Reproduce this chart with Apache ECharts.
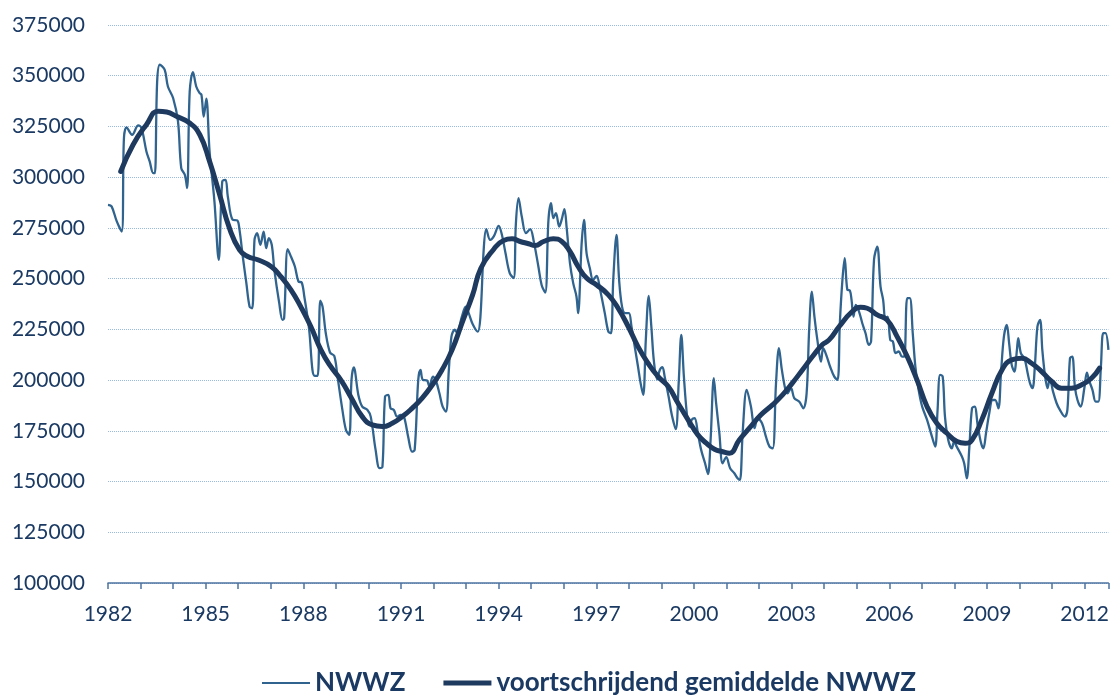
<!DOCTYPE html>
<html>
<head>
<meta charset="utf-8">
<title>NWWZ</title>
<script src="https://cdn.jsdelivr.net/npm/echarts@6/dist/echarts.min.js"></script>
<style>
  html, body { margin: 0; padding: 0; background: #fff; }
  #chart { width: 1112px; height: 699px; }
</style>
</head>
<body>
<div id="chart"></div>
<script>
var nwwzTijd = [
  1982.00, 1982.11, 1982.27, 1982.42, 1982.49, 1982.57, 1982.74, 1982.93, 1983.03, 1983.18,
  1983.28, 1983.39, 1983.44, 1983.51, 1983.59, 1983.74, 1983.84, 1984.00, 1984.15, 1984.25,
  1984.36, 1984.43, 1984.51, 1984.61, 1984.71, 1984.81, 1984.87, 1984.94, 1985.02, 1985.12,
  1985.27, 1985.40, 1985.51, 1985.61, 1985.68, 1985.83, 1985.97, 1986.04, 1986.14, 1986.25,
  1986.35, 1986.43, 1986.50, 1986.58, 1986.68, 1986.78, 1986.86, 1986.94, 1987.03, 1987.11,
  1987.26, 1987.36, 1987.41, 1987.52, 1987.62, 1987.74, 1987.85, 1987.95, 1988.03, 1988.18,
  1988.28, 1988.35, 1988.44, 1988.52, 1988.59, 1988.69, 1988.82, 1988.95, 1989.05, 1989.20,
  1989.31, 1989.41, 1989.48, 1989.55, 1989.69, 1989.81, 1989.97, 1990.07, 1990.22, 1990.34,
  1990.43, 1990.51, 1990.61, 1990.68, 1990.78, 1990.88, 1990.99, 1991.09, 1991.22, 1991.34,
  1991.42, 1991.53, 1991.60, 1991.67, 1991.80, 1991.87, 1991.98, 1992.08, 1992.18, 1992.28,
  1992.38, 1992.47, 1992.55, 1992.65, 1992.72, 1992.87, 1992.99, 1993.08, 1993.20, 1993.36,
  1993.44, 1993.54, 1993.62, 1993.74, 1993.85, 1994.00, 1994.10, 1994.21, 1994.34, 1994.46,
  1994.53, 1994.61, 1994.71, 1994.84, 1994.97, 1995.07, 1995.22, 1995.32, 1995.43, 1995.53,
  1995.61, 1995.68, 1995.76, 1995.86, 1995.94, 1996.02, 1996.09, 1996.19, 1996.29, 1996.39,
  1996.44, 1996.55, 1996.62, 1996.70, 1996.80, 1996.90, 1997.01, 1997.11, 1997.26, 1997.37,
  1997.45, 1997.52, 1997.62, 1997.70, 1997.79, 1997.89, 1998.00, 1998.08, 1998.18, 1998.28,
  1998.36, 1998.44, 1998.52, 1998.61, 1998.69, 1998.77, 1998.87, 1998.95, 1999.03, 1999.10,
  1999.22, 1999.32, 1999.44, 1999.53, 1999.61, 1999.69, 1999.79, 1999.86, 1999.94, 2000.02,
  2000.12, 2000.22, 2000.34, 2000.43, 2000.51, 2000.61, 2000.68, 2000.78, 2000.88, 2000.99,
  2001.11, 2001.24, 2001.34, 2001.41, 2001.50, 2001.62, 2001.75, 2001.86, 2001.96, 2002.09,
  2002.21, 2002.32, 2002.42, 2002.52, 2002.61, 2002.70, 2002.81, 2002.87, 2002.98, 2003.08,
  2003.23, 2003.36, 2003.46, 2003.54, 2003.62, 2003.70, 2003.79, 2003.90, 2003.97, 2004.08,
  2004.18, 2004.31, 2004.41, 2004.48, 2004.56, 2004.63, 2004.71, 2004.79, 2004.84, 2004.90,
  2004.97, 2005.07, 2005.17, 2005.27, 2005.37, 2005.44, 2005.53, 2005.63, 2005.73, 2005.81,
  2005.88, 2005.95, 2006.03, 2006.11, 2006.19, 2006.29, 2006.39, 2006.46, 2006.55, 2006.63,
  2006.72, 2006.80, 2006.90, 2007.01, 2007.16, 2007.31, 2007.41, 2007.48, 2007.56, 2007.64,
  2007.71, 2007.81, 2007.92, 2007.99, 2008.07, 2008.23, 2008.30, 2008.38, 2008.46, 2008.54,
  2008.62, 2008.72, 2008.82, 2008.89, 2008.97, 2009.07, 2009.17, 2009.25, 2009.35, 2009.43,
  2009.52, 2009.61, 2009.68, 2009.76, 2009.84, 2009.92, 2009.96, 2010.04, 2010.15, 2010.25,
  2010.32, 2010.40, 2010.47, 2010.55, 2010.63, 2010.70, 2010.78, 2010.86, 2010.93, 2011.03,
  2011.14, 2011.24, 2011.39, 2011.47, 2011.55, 2011.62, 2011.70, 2011.78, 2011.88, 2011.99,
  2012.07, 2012.13, 2012.24, 2012.34, 2012.42, 2012.50, 2012.57, 2012.64, 2012.73
];
var nwwzAantal = [
  286400, 285600, 278200, 273200, 319300, 324500, 320900, 325500, 324200, 312700,
  307800, 302000, 302000, 347200, 355400, 353000, 344700, 339000, 327500, 304500,
  301200, 294600, 342300, 351800, 344700, 341500, 340600, 329900, 338700, 312700,
  288000, 259300, 297900, 298700, 290500, 279000, 278700, 274000, 260900, 247800,
  236200, 235400, 269100, 272400, 266700, 273200, 265000, 270000, 266700, 254300,
  237900, 229700, 230500, 264500, 260900, 256000, 248600, 248100, 241200, 224800,
  205000, 202100, 202100, 239200, 236300, 223100, 213600, 211900, 201700, 185300,
  175400, 173000, 200100, 206300, 192700, 186900, 185300, 182000, 165600, 156600,
  157300, 191900, 192700, 186100, 185300, 182000, 182800, 182000, 172100, 164700,
  165600, 200100, 205000, 200100, 199800, 196800, 201700, 199300, 193500, 186900,
  184500, 205000, 221400, 224800, 223400, 231300, 236200, 233000, 227700, 223900,
  231300, 264200, 274400, 269100, 270800, 276000, 271600, 262600, 252700, 250300,
  277400, 289700, 280600, 272400, 274400, 269100, 256000, 246900, 243100, 279000,
  287200, 279800, 282300, 275700, 279300, 284300, 274900, 257700, 247800, 241200,
  233000, 267500, 279000, 262600, 255200, 249400, 251400, 245000, 233000, 223900,
  223100, 249400, 271600, 249400, 236200, 233000, 233000, 226400, 216500, 206700,
  198500, 192700, 219800, 241500, 226400, 209100, 200400, 205000, 206400, 201700,
  191900, 182800, 175800, 198500, 222300, 201700, 182000, 177100, 180700, 181200,
  173800, 165600, 159000, 153700, 170500, 200900, 188600, 173800, 159000, 162000,
  156600, 154100, 151600, 150800, 175400, 195200, 186900, 176300, 181200, 178700,
  172100, 167200, 166400, 198500, 215700, 205000, 195200, 193500, 196000, 191100,
  189400, 186100, 193500, 225600, 243600, 231300, 219800, 209100, 215700, 211600,
  206700, 201700, 200100, 228000, 249400, 260100, 244500, 244100, 239500, 231300,
  237100, 233800, 228000, 223100, 217400, 219000, 259300, 265800, 246100, 239500,
  229700, 231300, 219800, 219000, 213300, 214100, 211600, 211600, 240400, 240400,
  223100, 206700, 195200, 186900, 180400, 172100, 167200, 184500, 202600, 201700,
  182000, 170500, 166400, 169700, 167200, 162300, 159000, 151600, 167200, 186100,
  186900, 177100, 168900, 166400, 173800, 183700, 190200, 190200, 186100, 203400,
  221400, 227200, 218200, 207500, 204200, 214900, 220700, 213300, 210800, 203400,
  198500, 196000, 206700, 226400, 229700, 214900, 202600, 196000, 200900, 194300,
  188600, 185300, 182000, 185300, 210800, 211600, 196800, 190200, 186900, 196000,
  203700, 200100, 195200, 189400, 189400, 206700, 223100, 223100, 214900
];

var gemTijd = [
  1982.39, 1982.77, 1983.18, 1983.54, 1983.80, 1984.10, 1984.51, 1984.82, 1985.12, 1985.43,
  1985.73, 1986.04, 1986.29, 1986.60, 1987.01, 1987.31, 1987.62, 1987.92, 1988.23, 1988.54,
  1988.84, 1989.15, 1989.48, 1989.81, 1990.12, 1990.43, 1990.73, 1991.04, 1991.34, 1991.65,
  1991.96, 1992.26, 1992.57, 1992.87, 1993.20, 1993.45, 1993.85, 1994.15, 1994.41, 1994.66,
  1994.92, 1995.12, 1995.38, 1995.68, 1995.94, 1996.19, 1996.44, 1996.70, 1997.01, 1997.37,
  1997.67, 1997.98, 1998.28, 1998.59, 1998.90, 1999.21, 1999.51, 1999.82, 2000.12, 2000.38,
  2000.63, 2000.88, 2001.09, 2001.39, 2001.70, 2002.05, 2002.41, 2002.72, 2003.02, 2003.33,
  2003.64, 2003.94, 2004.15, 2004.46, 2004.86, 2005.12, 2005.32, 2005.63, 2005.93, 2006.24,
  2006.55, 2006.85, 2007.16, 2007.46, 2007.77, 2008.08, 2008.33, 2008.54, 2008.84, 2009.15,
  2009.46, 2009.76, 2010.07, 2010.37, 2010.68, 2010.99, 2011.29, 2011.59, 2011.90, 2012.21,
  2012.46
];
var gemAantal = [
  302800, 316000, 325900, 332500, 332100, 330000, 326700, 320900, 307800, 291300,
  274900, 264200, 260900, 259300, 256000, 251000, 244500, 236200, 226400, 214900,
  206700, 200100, 191100, 182000, 177900, 177100, 178700, 182000, 186100, 191100,
  197600, 205000, 214900, 228000, 242000, 255000, 264500, 268800, 269600, 268300,
  267200, 266300, 268300, 269600, 268300, 263400, 256000, 250300, 246900, 242000,
  235400, 226400, 216500, 208300, 201700, 196800, 188600, 180400, 173000, 168900,
  165900, 164700, 164000, 170500, 176300, 182800, 187800, 192700, 198500, 205000,
  211600, 217400, 219800, 226400, 233800, 235900, 235400, 232100, 229700, 221400,
  211600, 200100, 186900, 178700, 173800, 169700, 168900, 170500, 180400, 193500,
  205000, 210000, 210800, 208300, 204200, 199300, 196000, 196000, 197600, 200900,
  205900
];

var jaarLabels = [1982, 1985, 1988, 1991, 1994, 1997, 2000, 2003, 2006, 2009, 2012];

function paren(tijd, aantal) {
  var out = [];
  for (var i = 0; i < tijd.length; i++) {
    out.push([tijd[i], aantal[i]]);
  }
  return out;
}

var tekstKleur = "#1b3a63";
var dunKleur = "#30648f";
var dikKleur = "#1f3a5f";
var fontNaam = "Lato, 'Open Sans', sans-serif";

let myChart = echarts.init(document.getElementById("chart"), null, { renderer: "canvas" });

let option = {
  animation: false,
  backgroundColor: "#ffffff",
  grid: {
    left: 108,
    right: 0,
    top: 25,
    bottom: 116
  },
  legend: {
    left: 257,
    top: 665,
    itemWidth: 48,
    itemHeight: 14,
    itemGap: 38,
    textStyle: {
      color: tekstKleur,
      fontFamily: fontNaam,
      fontWeight: "bold",
      fontSize: 26
    },
    // lijntjes als legendasymbool, dun en dik
    data: [
      { name: "NWWZ", icon: "path://M0,0H48V2H0Z", itemStyle: { color: dunKleur } },
      { name: "voortschrijdend gemiddelde NWWZ", icon: "path://M0,0H48V5H0Z", itemStyle: { color: dikKleur } }
    ]
  },
  xAxis: {
    type: "value",
    min: 1982,
    max: 2012.73,
    interval: 1,
    axisLine: {
      show: true,
      lineStyle: { color: "#4d73a0", width: 1.5 }
    },
    axisTick: {
      show: true,
      length: 6,
      lineStyle: { color: "#4d73a0", width: 1.5 }
    },
    axisLabel: {
      margin: 21,
      color: tekstKleur,
      fontFamily: fontNaam,
      fontSize: 21,
      formatter: function (v) {
        return jaarLabels.indexOf(v) >= 0 ? String(v) : "";
      }
    },
    splitLine: { show: false }
  },
  yAxis: {
    type: "value",
    min: 100000,
    max: 375000,
    interval: 25000,
    axisLine: { show: false },
    axisTick: { show: false },
    axisLabel: {
      margin: 23,
      color: tekstKleur,
      fontFamily: fontNaam,
      fontSize: 21,
      formatter: function (v) {
        return String(v);
      }
    },
    splitLine: {
      show: true,
      lineStyle: { color: "#98b9e0", type: "dotted", width: 1 }
    }
  },
  series: [
    {
      name: "NWWZ",
      type: "line",
      data: paren(nwwzTijd, nwwzAantal),
      showSymbol: false,
      symbol: "none",
      smooth: 0.35,
      lineStyle: { color: dunKleur, width: 2.3 },
      itemStyle: { color: dunKleur },
      z: 2
    },
    {
      name: "voortschrijdend gemiddelde NWWZ",
      type: "line",
      data: paren(gemTijd, gemAantal),
      showSymbol: false,
      symbol: "none",
      smooth: 0.5,
      lineStyle: { color: dikKleur, width: 5, cap: "round" },
      itemStyle: { color: dikKleur },
      z: 3
    }
  ]
};
myChart.setOption(option);
</script>
</body>
</html>
